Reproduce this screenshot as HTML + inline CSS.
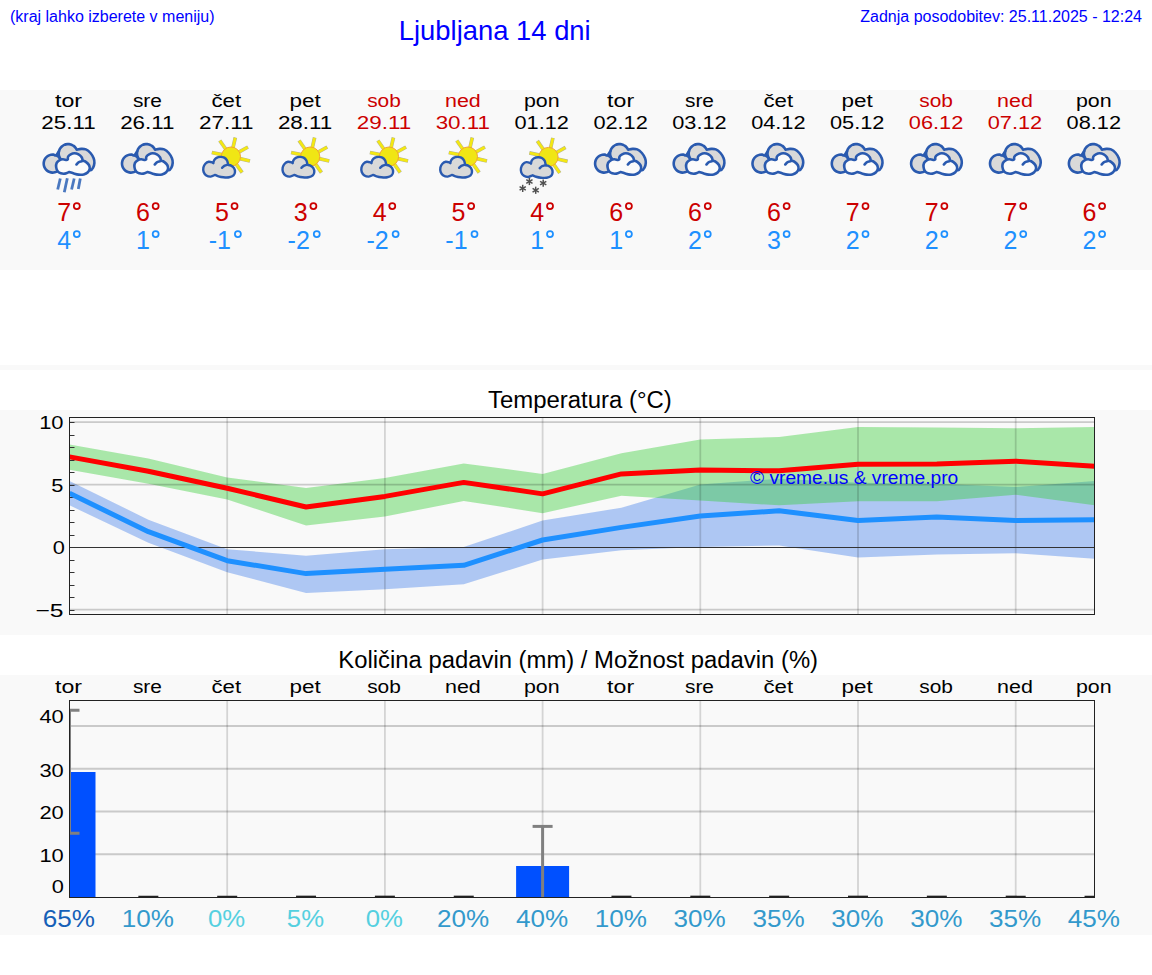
<!DOCTYPE html>
<html><head><meta charset="utf-8"><title>Ljubljana 14 dni</title>
<style>
html,body{margin:0;padding:0;background:#fff;width:1152px;height:975px;overflow:hidden}
svg{display:block}
text{font-family:"Liberation Sans",sans-serif}
</style></head><body>
<svg width="1152" height="975" viewBox="0 0 1152 975">
<defs>

<g id="cb"><path d="M-11.90,11.39 C-12.30,11.55 -13.48,12.16 -14.31,12.35 C-15.14,12.55 -16.04,12.63 -16.89,12.59 C-17.75,12.54 -18.63,12.36 -19.44,12.07 C-20.24,11.78 -21.04,11.36 -21.73,10.85 C-22.42,10.35 -23.06,9.72 -23.57,9.03 C-24.09,8.35 -24.53,7.56 -24.83,6.76 C-25.13,5.96 -25.32,5.08 -25.38,4.23 C-25.44,3.37 -25.37,2.48 -25.18,1.64 C-25.00,0.81 -24.68,-0.04 -24.26,-0.78 C-23.84,-1.53 -23.30,-2.25 -22.68,-2.84 C-22.07,-3.44 -21.34,-3.97 -20.59,-4.37 C-19.83,-4.77 -18.98,-5.06 -18.14,-5.23 C-17.30,-5.40 -16.40,-5.44 -15.55,-5.36 C-14.70,-5.28 -13.95,-4.12 -13.03,-4.74 C-12.11,-5.37 -10.53,-8.37 -10.04,-9.09 C-9.94,-9.35 -9.69,-10.13 -9.45,-10.62 C-9.21,-11.11 -8.92,-11.58 -8.60,-12.03 C-8.28,-12.47 -7.92,-12.88 -7.53,-13.26 C-7.14,-13.64 -6.71,-13.99 -6.26,-14.29 C-5.81,-14.60 -5.32,-14.87 -4.82,-15.09 C-4.33,-15.31 -3.80,-15.49 -3.27,-15.62 C-2.75,-15.75 -2.20,-15.84 -1.66,-15.88 C-1.11,-15.92 -0.56,-15.91 -0.02,-15.85 C0.52,-15.79 1.07,-15.69 1.59,-15.54 C2.11,-15.39 2.63,-15.19 3.12,-14.95 C3.61,-14.71 4.08,-14.42 4.53,-14.10 C4.97,-13.78 5.38,-13.42 5.76,-13.03 C6.14,-12.64 6.49,-12.21 6.79,-11.76 C7.10,-11.31 7.45,-10.56 7.59,-10.32 C8.33,-10.46 10.53,-11.10 12.05,-11.15 C13.57,-11.20 15.17,-11.29 16.73,-10.60 C18.29,-9.91 20.10,-8.47 21.40,-7.00 C22.70,-5.53 23.90,-3.42 24.55,-1.77 C25.20,-0.12 25.39,1.34 25.30,2.90 C25.21,4.46 24.65,6.38 24.00,7.60 C23.35,8.82 22.57,9.97 21.40,10.20 C20.23,10.43 17.73,9.20 17.00,9.00  L-9,9 Z" fill="#d9d9d9" stroke="#2a5aaf" stroke-width="2.6" stroke-linejoin="round"/><path d="M-10.04,-9.09 C-10.08,-8.87 -10.25,-8.21 -10.31,-7.77 C-10.37,-7.32 -10.40,-6.87 -10.40,-6.42 C-10.40,-5.97 -10.36,-5.51 -10.29,-5.07 C-10.22,-4.63 -10.12,-4.18 -9.99,-3.75 C-9.86,-3.32 -9.69,-2.90 -9.50,-2.49 C-9.31,-2.08 -9.09,-1.69 -8.84,-1.31 C-8.59,-0.94 -8.31,-0.58 -8.01,-0.24 C-7.71,0.09 -7.20,0.54 -7.04,0.70" fill="none" stroke="#2a5aaf" stroke-width="2.6"/><path d="M-13.03,-4.74 C-12.85,-4.66 -12.30,-4.42 -11.95,-4.23 C-11.61,-4.03 -11.27,-3.81 -10.96,-3.57 C-10.64,-3.33 -10.34,-3.07 -10.06,-2.79 C-9.78,-2.51 -9.51,-2.21 -9.27,-1.89 C-9.03,-1.58 -8.72,-1.07 -8.61,-0.90" fill="none" stroke="#2a5aaf" stroke-width="2.6"/></g>
<g id="over"><use href="#cb"/><path d="M0.07,12.03 C-0.62,12.29 -2.71,13.39 -4.10,13.60 C-5.49,13.81 -7.05,13.69 -8.27,13.30 C-9.49,12.91 -10.62,12.29 -11.40,11.25 C-12.18,10.21 -12.78,8.47 -12.95,7.08 C-13.12,5.69 -12.93,4.03 -12.40,2.90 C-11.88,1.77 -10.83,0.91 -9.80,0.30 C-8.77,-0.30 -7.42,-0.69 -6.20,-0.73 C-4.98,-0.77 -3.33,0.05 -2.50,0.05 C-1.67,0.05 -1.45,-0.60 -1.24,-0.73 C-1.20,-1.16 -1.46,-2.51 -0.98,-3.33 C-0.50,-4.16 0.59,-5.12 1.63,-5.68 C2.67,-6.24 3.98,-6.72 5.28,-6.72 C6.58,-6.72 8.22,-6.33 9.44,-5.68 C10.65,-5.03 11.88,-3.86 12.57,-2.81 C13.26,-1.76 13.43,0.03 13.60,0.60 C14.12,0.81 15.69,1.14 16.73,1.88 C17.77,2.61 19.21,3.87 19.86,5.00 C20.51,6.13 20.82,7.43 20.64,8.65 C20.46,9.87 19.80,11.34 18.80,12.30 C17.80,13.26 16.21,14.02 14.65,14.40 C13.09,14.78 11.18,14.78 9.44,14.60 C7.70,14.42 5.76,13.73 4.20,13.30 C2.64,12.87 0.76,12.24 0.07,12.03 Z" fill="#fbfbfb" stroke="#2a5aaf" stroke-width="2.6" stroke-linejoin="round"/><path d="M7.36,4.48 C7.71,4.13 8.57,2.92 9.44,2.40 C10.31,1.88 11.88,1.60 12.57,1.35 C13.26,1.10 13.43,0.98 13.60,0.90" fill="none" stroke="#2a5aaf" stroke-width="2.6" stroke-linecap="round"/></g>
<g id="rain"><use href="#over"/><line x1="-8.8" y1="18.5" x2="-11.4" y2="29.5" stroke="#4a78c0" stroke-width="2.8"/><line x1="-1.8" y1="18.2" x2="-4.8" y2="32.3" stroke="#4a78c0" stroke-width="2.8"/><line x1="5.1" y1="18.5" x2="2.5" y2="29.5" stroke="#4a78c0" stroke-width="2.8"/><line x1="11.2" y1="18.5" x2="9.2" y2="29" stroke="#4a78c0" stroke-width="2.8"/></g>
<g id="sun"><line x1="11.49" y1="-1.60" x2="22.80" y2="1.01" stroke="#b4b494" stroke-width="3.7"/><line x1="8.30" y1="3.15" x2="14.97" y2="12.64" stroke="#b4b494" stroke-width="3.7"/><line x1="2.45" y1="4.50" x2="0.63" y2="15.96" stroke="#b4b494" stroke-width="3.7"/><line x1="-2.85" y1="1.19" x2="-12.36" y2="7.84" stroke="#b4b494" stroke-width="3.7"/><line x1="-4.12" y1="-5.08" x2="-15.46" y2="-7.51" stroke="#b4b494" stroke-width="3.7"/><line x1="-0.85" y1="-9.98" x2="-7.46" y2="-19.51" stroke="#b4b494" stroke-width="3.7"/><line x1="5.51" y1="-11.19" x2="8.14" y2="-22.49" stroke="#b4b494" stroke-width="3.7"/><line x1="10.68" y1="-7.32" x2="20.79" y2="-12.99" stroke="#b4b494" stroke-width="3.7"/><line x1="11.49" y1="-1.60" x2="22.41" y2="0.92" stroke="#f4e812" stroke-width="2.7"/><line x1="8.30" y1="3.15" x2="14.74" y2="12.31" stroke="#f4e812" stroke-width="2.7"/><line x1="2.45" y1="4.50" x2="0.70" y2="15.56" stroke="#f4e812" stroke-width="2.7"/><line x1="-2.85" y1="1.19" x2="-12.03" y2="7.61" stroke="#f4e812" stroke-width="2.7"/><line x1="-4.12" y1="-5.08" x2="-15.07" y2="-7.42" stroke="#f4e812" stroke-width="2.7"/><line x1="-0.85" y1="-9.98" x2="-7.23" y2="-19.19" stroke="#f4e812" stroke-width="2.7"/><line x1="5.51" y1="-11.19" x2="8.05" y2="-22.10" stroke="#f4e812" stroke-width="2.7"/><line x1="10.68" y1="-7.32" x2="20.44" y2="-12.80" stroke="#f4e812" stroke-width="2.7"/><circle cx="3.7" cy="-3.4" r="9.6" fill="#f0e614" stroke="#f2a530" stroke-width="1"/></g>
<g id="psun"><use href="#sun"/><path d="M-12.13,14.89 C-12.86,15.18 -15.04,16.52 -16.50,16.60 C-17.96,16.69 -19.72,16.17 -20.90,15.40 C-22.07,14.63 -23.07,13.27 -23.55,11.97 C-24.03,10.67 -24.08,8.98 -23.80,7.60 C-23.52,6.22 -22.74,4.67 -21.85,3.70 C-20.96,2.73 -19.66,1.97 -18.45,1.77 C-17.23,1.57 -15.33,2.26 -14.56,2.50 C-13.79,2.74 -13.95,3.10 -13.83,3.22 C-13.71,2.73 -13.63,1.19 -13.10,0.30 C-12.57,-0.59 -11.72,-1.55 -10.67,-2.12 C-9.62,-2.69 -8.07,-3.06 -6.78,-3.10 C-5.49,-3.14 -4.00,-2.94 -2.90,-2.37 C-1.80,-1.80 -0.81,-0.71 -0.20,0.30 C0.41,1.31 0.51,2.93 0.75,3.70 C0.99,4.47 1.16,4.72 1.24,4.93 C1.68,5.05 2.97,5.12 3.90,5.65 C4.83,6.18 6.18,7.05 6.83,8.10 C7.48,9.15 7.88,10.75 7.80,11.97 C7.72,13.19 7.31,14.51 6.34,15.40 C5.37,16.29 3.67,16.98 1.97,17.30 C0.27,17.62 -2.08,17.46 -3.86,17.30 C-5.64,17.14 -7.35,16.75 -8.73,16.35 C-10.11,15.95 -11.56,15.13 -12.13,14.89 Z" fill="#d9d9d9" stroke="#2a5aaf" stroke-width="2.4" stroke-linejoin="round"/><path d="M-5.08,7.84 C-4.72,7.52 -3.75,6.39 -2.90,5.90 C-2.05,5.42 -0.71,5.09 0.02,4.93 C0.75,4.77 1.24,4.93 1.48,4.93" fill="none" stroke="#2a5aaf" stroke-width="2.4" stroke-linecap="round"/></g>
<g id="psnow"><use href="#psun" transform="translate(2.2,0.4)"/><line x1="-13.20" y1="17.90" x2="-13.20" y2="25.10" stroke="#505050" stroke-width="1.5"/><line x1="-10.08" y1="19.70" x2="-16.32" y2="23.30" stroke="#505050" stroke-width="1.5"/><line x1="-10.08" y1="23.30" x2="-16.32" y2="19.70" stroke="#505050" stroke-width="1.5"/><line x1="0.60" y1="19.50" x2="0.60" y2="26.70" stroke="#505050" stroke-width="1.5"/><line x1="3.72" y1="21.30" x2="-2.52" y2="24.90" stroke="#505050" stroke-width="1.5"/><line x1="3.72" y1="24.90" x2="-2.52" y2="21.30" stroke="#505050" stroke-width="1.5"/><line x1="-19.90" y1="24.80" x2="-19.90" y2="32.00" stroke="#505050" stroke-width="1.5"/><line x1="-16.78" y1="26.60" x2="-23.02" y2="30.20" stroke="#505050" stroke-width="1.5"/><line x1="-16.78" y1="30.20" x2="-23.02" y2="26.60" stroke="#505050" stroke-width="1.5"/><line x1="-6.90" y1="26.65" x2="-6.90" y2="33.85" stroke="#505050" stroke-width="1.5"/><line x1="-3.78" y1="28.45" x2="-10.02" y2="32.05" stroke="#505050" stroke-width="1.5"/><line x1="-3.78" y1="32.05" x2="-10.02" y2="28.45" stroke="#505050" stroke-width="1.5"/></g>
<clipPath id="tclip"><rect x="69.5" y="417.5" width="1025" height="196.5"/></clipPath>
<clipPath id="rclip"><rect x="69.5" y="700.5" width="1025" height="196.5"/></clipPath>
</defs>

<text x="10" y="22" font-size="16" fill="#0000ff">(kraj lahko izberete v meniju)</text>
<g transform="translate(398.8,39.6) scale(0.965,1)"><text x="0" y="0" font-size="28.4" fill="#0000ff">Ljubljana 14 dni</text></g>
<text x="1142" y="22" font-size="16" fill="#0000ff" text-anchor="end">Zadnja posodobitev: 25.11.2025 - 12:24</text>
<rect x="0" y="90" width="1152" height="180" fill="#f9f9f9"/>
<rect x="0" y="365" width="1152" height="5" fill="#f9f9f9"/>
<rect x="0" y="410" width="1152" height="225" fill="#f9f9f9"/>
<rect x="0" y="675" width="1152" height="260" fill="#f9f9f9"/>
<g transform="translate(68.50,106.80) scale(1.216,1)"><text x="0" y="0" font-size="19" fill="#000000" text-anchor="middle" >tor</text></g>
<g transform="translate(68.50,129.00) scale(1.18,1)"><text x="0" y="0" font-size="19" fill="#000000" text-anchor="middle" >25.11</text></g>
<use href="#rain" transform="translate(69.10,160)"/>
<g transform="translate(64.10,221.00) scale(1.0,1)"><text x="0" y="0" font-size="25" fill="#cc0000" text-anchor="middle" >7</text></g>
<circle cx="76.80" cy="206.10" r="3.0" fill="none" stroke="#cc0000" stroke-width="1.75"/>
<g transform="translate(64.10,249.00) scale(1.0,1)"><text x="0" y="0" font-size="25" fill="#1e90ff" text-anchor="middle" >4</text></g>
<circle cx="76.80" cy="234.10" r="3.0" fill="none" stroke="#1e90ff" stroke-width="1.75"/>
<g transform="translate(147.37,106.80) scale(1.098,1)"><text x="0" y="0" font-size="19" fill="#000000" text-anchor="middle" >sre</text></g>
<g transform="translate(147.37,129.00) scale(1.18,1)"><text x="0" y="0" font-size="19" fill="#000000" text-anchor="middle" >26.11</text></g>
<use href="#over" transform="translate(147.40,160)"/>
<g transform="translate(142.97,221.00) scale(1.0,1)"><text x="0" y="0" font-size="25" fill="#cc0000" text-anchor="middle" >6</text></g>
<circle cx="155.67" cy="206.10" r="3.0" fill="none" stroke="#cc0000" stroke-width="1.75"/>
<g transform="translate(142.97,249.00) scale(1.0,1)"><text x="0" y="0" font-size="25" fill="#1e90ff" text-anchor="middle" >1</text></g>
<circle cx="155.67" cy="234.10" r="3.0" fill="none" stroke="#1e90ff" stroke-width="1.75"/>
<g transform="translate(226.24,106.80) scale(1.17,1)"><text x="0" y="0" font-size="19" fill="#000000" text-anchor="middle" >čet</text></g>
<g transform="translate(226.24,129.00) scale(1.18,1)"><text x="0" y="0" font-size="19" fill="#000000" text-anchor="middle" >27.11</text></g>
<use href="#psun" transform="translate(227.20,160)"/>
<g transform="translate(221.84,221.00) scale(1.0,1)"><text x="0" y="0" font-size="25" fill="#cc0000" text-anchor="middle" >5</text></g>
<circle cx="234.54" cy="206.10" r="3.0" fill="none" stroke="#cc0000" stroke-width="1.75"/>
<g transform="translate(219.84,249.00) scale(1.0,1)"><text x="0" y="0" font-size="25" fill="#1e90ff" text-anchor="middle" >-1</text></g>
<circle cx="237.89" cy="234.10" r="3.0" fill="none" stroke="#1e90ff" stroke-width="1.75"/>
<g transform="translate(305.11,106.80) scale(1.182,1)"><text x="0" y="0" font-size="19" fill="#000000" text-anchor="middle" >pet</text></g>
<g transform="translate(305.11,129.00) scale(1.18,1)"><text x="0" y="0" font-size="19" fill="#000000" text-anchor="middle" >28.11</text></g>
<use href="#psun" transform="translate(306.50,160)"/>
<g transform="translate(300.71,221.00) scale(1.0,1)"><text x="0" y="0" font-size="25" fill="#cc0000" text-anchor="middle" >3</text></g>
<circle cx="313.41" cy="206.10" r="3.0" fill="none" stroke="#cc0000" stroke-width="1.75"/>
<g transform="translate(298.71,249.00) scale(1.0,1)"><text x="0" y="0" font-size="25" fill="#1e90ff" text-anchor="middle" >-2</text></g>
<circle cx="316.76" cy="234.10" r="3.0" fill="none" stroke="#1e90ff" stroke-width="1.75"/>
<g transform="translate(383.98,106.80) scale(1.098,1)"><text x="0" y="0" font-size="19" fill="#cc0000" text-anchor="middle" >sob</text></g>
<g transform="translate(383.98,129.00) scale(1.18,1)"><text x="0" y="0" font-size="19" fill="#cc0000" text-anchor="middle" >29.11</text></g>
<use href="#psun" transform="translate(385.30,160)"/>
<g transform="translate(379.58,221.00) scale(1.0,1)"><text x="0" y="0" font-size="25" fill="#cc0000" text-anchor="middle" >4</text></g>
<circle cx="392.28" cy="206.10" r="3.0" fill="none" stroke="#cc0000" stroke-width="1.75"/>
<g transform="translate(377.58,249.00) scale(1.0,1)"><text x="0" y="0" font-size="25" fill="#1e90ff" text-anchor="middle" >-2</text></g>
<circle cx="395.63" cy="234.10" r="3.0" fill="none" stroke="#1e90ff" stroke-width="1.75"/>
<g transform="translate(462.85,106.80) scale(1.129,1)"><text x="0" y="0" font-size="19" fill="#cc0000" text-anchor="middle" >ned</text></g>
<g transform="translate(462.85,129.00) scale(1.18,1)"><text x="0" y="0" font-size="19" fill="#cc0000" text-anchor="middle" >30.11</text></g>
<use href="#psun" transform="translate(464.20,160)"/>
<g transform="translate(458.45,221.00) scale(1.0,1)"><text x="0" y="0" font-size="25" fill="#cc0000" text-anchor="middle" >5</text></g>
<circle cx="471.15" cy="206.10" r="3.0" fill="none" stroke="#cc0000" stroke-width="1.75"/>
<g transform="translate(456.45,249.00) scale(1.0,1)"><text x="0" y="0" font-size="25" fill="#1e90ff" text-anchor="middle" >-1</text></g>
<circle cx="474.50" cy="234.10" r="3.0" fill="none" stroke="#1e90ff" stroke-width="1.75"/>
<g transform="translate(541.72,106.80) scale(1.126,1)"><text x="0" y="0" font-size="19" fill="#000000" text-anchor="middle" >pon</text></g>
<g transform="translate(541.72,129.00) scale(1.145,1)"><text x="0" y="0" font-size="19" fill="#000000" text-anchor="middle" >01.12</text></g>
<use href="#psnow" transform="translate(542.60,160)"/>
<g transform="translate(537.32,221.00) scale(1.0,1)"><text x="0" y="0" font-size="25" fill="#cc0000" text-anchor="middle" >4</text></g>
<circle cx="550.02" cy="206.10" r="3.0" fill="none" stroke="#cc0000" stroke-width="1.75"/>
<g transform="translate(537.32,249.00) scale(1.0,1)"><text x="0" y="0" font-size="25" fill="#1e90ff" text-anchor="middle" >1</text></g>
<circle cx="550.02" cy="234.10" r="3.0" fill="none" stroke="#1e90ff" stroke-width="1.75"/>
<g transform="translate(620.59,106.80) scale(1.216,1)"><text x="0" y="0" font-size="19" fill="#000000" text-anchor="middle" >tor</text></g>
<g transform="translate(620.59,129.00) scale(1.145,1)"><text x="0" y="0" font-size="19" fill="#000000" text-anchor="middle" >02.12</text></g>
<use href="#over" transform="translate(620.50,160)"/>
<g transform="translate(616.19,221.00) scale(1.0,1)"><text x="0" y="0" font-size="25" fill="#cc0000" text-anchor="middle" >6</text></g>
<circle cx="628.89" cy="206.10" r="3.0" fill="none" stroke="#cc0000" stroke-width="1.75"/>
<g transform="translate(616.19,249.00) scale(1.0,1)"><text x="0" y="0" font-size="25" fill="#1e90ff" text-anchor="middle" >1</text></g>
<circle cx="628.89" cy="234.10" r="3.0" fill="none" stroke="#1e90ff" stroke-width="1.75"/>
<g transform="translate(699.46,106.80) scale(1.098,1)"><text x="0" y="0" font-size="19" fill="#000000" text-anchor="middle" >sre</text></g>
<g transform="translate(699.46,129.00) scale(1.145,1)"><text x="0" y="0" font-size="19" fill="#000000" text-anchor="middle" >03.12</text></g>
<use href="#over" transform="translate(699.10,160)"/>
<g transform="translate(695.06,221.00) scale(1.0,1)"><text x="0" y="0" font-size="25" fill="#cc0000" text-anchor="middle" >6</text></g>
<circle cx="707.76" cy="206.10" r="3.0" fill="none" stroke="#cc0000" stroke-width="1.75"/>
<g transform="translate(695.06,249.00) scale(1.0,1)"><text x="0" y="0" font-size="25" fill="#1e90ff" text-anchor="middle" >2</text></g>
<circle cx="707.76" cy="234.10" r="3.0" fill="none" stroke="#1e90ff" stroke-width="1.75"/>
<g transform="translate(778.33,106.80) scale(1.17,1)"><text x="0" y="0" font-size="19" fill="#000000" text-anchor="middle" >čet</text></g>
<g transform="translate(778.33,129.00) scale(1.145,1)"><text x="0" y="0" font-size="19" fill="#000000" text-anchor="middle" >04.12</text></g>
<use href="#over" transform="translate(777.90,160)"/>
<g transform="translate(773.93,221.00) scale(1.0,1)"><text x="0" y="0" font-size="25" fill="#cc0000" text-anchor="middle" >6</text></g>
<circle cx="786.63" cy="206.10" r="3.0" fill="none" stroke="#cc0000" stroke-width="1.75"/>
<g transform="translate(773.93,249.00) scale(1.0,1)"><text x="0" y="0" font-size="25" fill="#1e90ff" text-anchor="middle" >3</text></g>
<circle cx="786.63" cy="234.10" r="3.0" fill="none" stroke="#1e90ff" stroke-width="1.75"/>
<g transform="translate(857.20,106.80) scale(1.182,1)"><text x="0" y="0" font-size="19" fill="#000000" text-anchor="middle" >pet</text></g>
<g transform="translate(857.20,129.00) scale(1.145,1)"><text x="0" y="0" font-size="19" fill="#000000" text-anchor="middle" >05.12</text></g>
<use href="#over" transform="translate(857.20,160)"/>
<g transform="translate(852.80,221.00) scale(1.0,1)"><text x="0" y="0" font-size="25" fill="#cc0000" text-anchor="middle" >7</text></g>
<circle cx="865.50" cy="206.10" r="3.0" fill="none" stroke="#cc0000" stroke-width="1.75"/>
<g transform="translate(852.80,249.00) scale(1.0,1)"><text x="0" y="0" font-size="25" fill="#1e90ff" text-anchor="middle" >2</text></g>
<circle cx="865.50" cy="234.10" r="3.0" fill="none" stroke="#1e90ff" stroke-width="1.75"/>
<g transform="translate(936.07,106.80) scale(1.098,1)"><text x="0" y="0" font-size="19" fill="#cc0000" text-anchor="middle" >sob</text></g>
<g transform="translate(936.07,129.00) scale(1.145,1)"><text x="0" y="0" font-size="19" fill="#cc0000" text-anchor="middle" >06.12</text></g>
<use href="#over" transform="translate(936.50,160)"/>
<g transform="translate(931.67,221.00) scale(1.0,1)"><text x="0" y="0" font-size="25" fill="#cc0000" text-anchor="middle" >7</text></g>
<circle cx="944.37" cy="206.10" r="3.0" fill="none" stroke="#cc0000" stroke-width="1.75"/>
<g transform="translate(931.67,249.00) scale(1.0,1)"><text x="0" y="0" font-size="25" fill="#1e90ff" text-anchor="middle" >2</text></g>
<circle cx="944.37" cy="234.10" r="3.0" fill="none" stroke="#1e90ff" stroke-width="1.75"/>
<g transform="translate(1014.94,106.80) scale(1.129,1)"><text x="0" y="0" font-size="19" fill="#cc0000" text-anchor="middle" >ned</text></g>
<g transform="translate(1014.94,129.00) scale(1.145,1)"><text x="0" y="0" font-size="19" fill="#cc0000" text-anchor="middle" >07.12</text></g>
<use href="#over" transform="translate(1015.40,160)"/>
<g transform="translate(1010.54,221.00) scale(1.0,1)"><text x="0" y="0" font-size="25" fill="#cc0000" text-anchor="middle" >7</text></g>
<circle cx="1023.24" cy="206.10" r="3.0" fill="none" stroke="#cc0000" stroke-width="1.75"/>
<g transform="translate(1010.54,249.00) scale(1.0,1)"><text x="0" y="0" font-size="25" fill="#1e90ff" text-anchor="middle" >2</text></g>
<circle cx="1023.24" cy="234.10" r="3.0" fill="none" stroke="#1e90ff" stroke-width="1.75"/>
<g transform="translate(1093.81,106.80) scale(1.126,1)"><text x="0" y="0" font-size="19" fill="#000000" text-anchor="middle" >pon</text></g>
<g transform="translate(1093.81,129.00) scale(1.145,1)"><text x="0" y="0" font-size="19" fill="#000000" text-anchor="middle" >08.12</text></g>
<use href="#over" transform="translate(1094.30,160)"/>
<g transform="translate(1089.41,221.00) scale(1.0,1)"><text x="0" y="0" font-size="25" fill="#cc0000" text-anchor="middle" >6</text></g>
<circle cx="1102.11" cy="206.10" r="3.0" fill="none" stroke="#cc0000" stroke-width="1.75"/>
<g transform="translate(1089.41,249.00) scale(1.0,1)"><text x="0" y="0" font-size="25" fill="#1e90ff" text-anchor="middle" >2</text></g>
<circle cx="1102.11" cy="234.10" r="3.0" fill="none" stroke="#1e90ff" stroke-width="1.75"/>
<text x="579.9" y="408" font-size="23.95" fill="#000" text-anchor="middle">Temperatura (°C)</text>
<rect x="69.5" y="417.5" width="1025" height="196.5" fill="#f9f9f9"/>
<g clip-path="url(#tclip)">
<path d="M69.50,480.9 L148.35,519.7 L227.20,549.2 L306.05,555.7 L384.90,549.2 L463.75,547 L542.60,520.6 L621.45,507.7 L700.30,484.6 L779.15,478.7 L858.00,482.8 L936.85,483.7 L1015.70,487.1 L1094.55,480.9 L1094.55,558.8 L1015.70,553.3 L936.85,554.4 L858.00,557.5 L779.15,545.5 L700.30,547 L621.45,550.2 L542.60,559.6 L463.75,584.3 L384.90,589.2 L306.05,593 L227.20,572.3 L148.35,542.8 L69.50,505.3 Z" fill="#6495ed" fill-opacity="0.5"/>
<path d="M69.50,444.55 L148.35,458.4 L227.20,477.4 L306.05,487.9 L384.90,477.9 L463.75,463.4 L542.60,473.9 L621.45,453.2 L700.30,439.6 L779.15,437 L858.00,427 L936.85,427.4 L1015.70,428.3 L1094.55,427 L1094.55,505.3 L1015.70,494.8 L936.85,501.2 L858.00,501.2 L779.15,505.3 L700.30,500.6 L621.45,495.7 L542.60,513.2 L463.75,500.9 L384.90,516.6 L306.05,525.6 L227.20,499.4 L148.35,483.7 L69.50,469.85 Z" fill="#32cd32" fill-opacity="0.4"/>
<line x1="69.5" y1="422.20000000000005" x2="1094.5" y2="422.20000000000005" stroke="#000" stroke-opacity="0.19" stroke-width="1.8"/>
<line x1="69.5" y1="484.70000000000005" x2="1094.5" y2="484.70000000000005" stroke="#000" stroke-opacity="0.19" stroke-width="1.8"/>
<line x1="69.5" y1="609.7" x2="1094.5" y2="609.7" stroke="#000" stroke-opacity="0.19" stroke-width="1.8"/>
<line x1="227.20" y1="417.5" x2="227.20" y2="614" stroke="#000" stroke-opacity="0.15" stroke-width="1.8"/>
<line x1="384.90" y1="417.5" x2="384.90" y2="614" stroke="#000" stroke-opacity="0.15" stroke-width="1.8"/>
<line x1="542.60" y1="417.5" x2="542.60" y2="614" stroke="#000" stroke-opacity="0.15" stroke-width="1.8"/>
<line x1="700.30" y1="417.5" x2="700.30" y2="614" stroke="#000" stroke-opacity="0.15" stroke-width="1.8"/>
<line x1="858.00" y1="417.5" x2="858.00" y2="614" stroke="#000" stroke-opacity="0.15" stroke-width="1.8"/>
<line x1="1015.70" y1="417.5" x2="1015.70" y2="614" stroke="#000" stroke-opacity="0.15" stroke-width="1.8"/>
<line x1="69.5" y1="547.5" x2="1094.5" y2="547.5" stroke="#333" stroke-width="1"/>
<line x1="69.5" y1="610.5" x2="74.5" y2="610.5" stroke="#333" stroke-width="1"/>
<line x1="69.5" y1="597.5" x2="74.5" y2="597.5" stroke="#333" stroke-width="1"/>
<line x1="69.5" y1="585.5" x2="74.5" y2="585.5" stroke="#333" stroke-width="1"/>
<line x1="69.5" y1="572.5" x2="74.5" y2="572.5" stroke="#333" stroke-width="1"/>
<line x1="69.5" y1="560.5" x2="74.5" y2="560.5" stroke="#333" stroke-width="1"/>
<line x1="69.5" y1="547.5" x2="74.5" y2="547.5" stroke="#333" stroke-width="1"/>
<line x1="69.5" y1="535.5" x2="74.5" y2="535.5" stroke="#333" stroke-width="1"/>
<line x1="69.5" y1="522.5" x2="74.5" y2="522.5" stroke="#333" stroke-width="1"/>
<line x1="69.5" y1="510.5" x2="74.5" y2="510.5" stroke="#333" stroke-width="1"/>
<line x1="69.5" y1="497.5" x2="74.5" y2="497.5" stroke="#333" stroke-width="1"/>
<line x1="69.5" y1="485.5" x2="74.5" y2="485.5" stroke="#333" stroke-width="1"/>
<line x1="69.5" y1="472.5" x2="74.5" y2="472.5" stroke="#333" stroke-width="1"/>
<line x1="69.5" y1="460.5" x2="74.5" y2="460.5" stroke="#333" stroke-width="1"/>
<line x1="69.5" y1="447.5" x2="74.5" y2="447.5" stroke="#333" stroke-width="1"/>
<line x1="69.5" y1="435.5" x2="74.5" y2="435.5" stroke="#333" stroke-width="1"/>
<line x1="69.5" y1="422.5" x2="74.5" y2="422.5" stroke="#333" stroke-width="1"/>
<path d="M69.50,456.9 L148.35,471.2 L227.20,488.2 L306.05,506.95 L384.90,496.4 L463.75,482.4 L542.60,493.85 L621.45,473.9 L700.30,470.0 L779.15,470.8 L858.00,464.3 L936.85,463.9 L1015.70,461.2 L1094.55,466.15" fill="none" stroke="#ff0000" stroke-width="5" stroke-linejoin="round"/>
<path d="M69.50,493.3 L148.35,531.7 L227.20,560.7 L306.05,573.6 L384.90,569.2 L463.75,565.3 L542.60,540 L621.45,527.4 L700.30,516.0 L779.15,510.8 L858.00,520.6 L936.85,516.9 L1015.70,520.6 L1094.55,519.7" fill="none" stroke="#1e90ff" stroke-width="5" stroke-linejoin="round"/>
</g>
<rect x="69.5" y="417.5" width="1025" height="197" fill="none" stroke="#222" stroke-width="1"/>
<text x="750" y="484" font-size="19.2" fill="#0000ff">© vreme.us &amp; vreme.pro</text>
<g transform="translate(63.50,429.10) scale(1.147,1)"><text x="0" y="0" font-size="19.1" fill="#000" text-anchor="end" >10</text></g>
<g transform="translate(63.50,491.60) scale(1.142,1)"><text x="0" y="0" font-size="19.1" fill="#000" text-anchor="end" >5</text></g>
<g transform="translate(65.00,554.10) scale(1.142,1)"><text x="0" y="0" font-size="19.1" fill="#000" text-anchor="end" >0</text></g>
<g transform="translate(63.50,616.60) scale(1.29,1)"><text x="0" y="0" font-size="19.1" fill="#000" text-anchor="end" >−5</text></g>
<text x="578.2" y="668" font-size="23.85" fill="#000" text-anchor="middle">Količina padavin (mm) / Možnost padavin (%)</text>
<g transform="translate(68.50,692.80) scale(1.216,1)"><text x="0" y="0" font-size="19" fill="#000" text-anchor="middle" >tor</text></g>
<g transform="translate(147.37,692.80) scale(1.098,1)"><text x="0" y="0" font-size="19" fill="#000" text-anchor="middle" >sre</text></g>
<g transform="translate(226.24,692.80) scale(1.17,1)"><text x="0" y="0" font-size="19" fill="#000" text-anchor="middle" >čet</text></g>
<g transform="translate(305.11,692.80) scale(1.182,1)"><text x="0" y="0" font-size="19" fill="#000" text-anchor="middle" >pet</text></g>
<g transform="translate(383.98,692.80) scale(1.098,1)"><text x="0" y="0" font-size="19" fill="#000" text-anchor="middle" >sob</text></g>
<g transform="translate(462.85,692.80) scale(1.129,1)"><text x="0" y="0" font-size="19" fill="#000" text-anchor="middle" >ned</text></g>
<g transform="translate(541.72,692.80) scale(1.126,1)"><text x="0" y="0" font-size="19" fill="#000" text-anchor="middle" >pon</text></g>
<g transform="translate(620.59,692.80) scale(1.216,1)"><text x="0" y="0" font-size="19" fill="#000" text-anchor="middle" >tor</text></g>
<g transform="translate(699.46,692.80) scale(1.098,1)"><text x="0" y="0" font-size="19" fill="#000" text-anchor="middle" >sre</text></g>
<g transform="translate(778.33,692.80) scale(1.17,1)"><text x="0" y="0" font-size="19" fill="#000" text-anchor="middle" >čet</text></g>
<g transform="translate(857.20,692.80) scale(1.182,1)"><text x="0" y="0" font-size="19" fill="#000" text-anchor="middle" >pet</text></g>
<g transform="translate(936.07,692.80) scale(1.098,1)"><text x="0" y="0" font-size="19" fill="#000" text-anchor="middle" >sob</text></g>
<g transform="translate(1014.94,692.80) scale(1.129,1)"><text x="0" y="0" font-size="19" fill="#000" text-anchor="middle" >ned</text></g>
<g transform="translate(1093.81,692.80) scale(1.126,1)"><text x="0" y="0" font-size="19" fill="#000" text-anchor="middle" >pon</text></g>
<rect x="69.5" y="700.5" width="1025" height="196.5" fill="#f9f9f9"/>
<g clip-path="url(#rclip)">
<line x1="69.5" y1="854.25" x2="1094.5" y2="854.25" stroke="#000" stroke-opacity="0.19" stroke-width="1.8"/>
<line x1="69.5" y1="811.5" x2="1094.5" y2="811.5" stroke="#000" stroke-opacity="0.19" stroke-width="1.8"/>
<line x1="69.5" y1="768.75" x2="1094.5" y2="768.75" stroke="#000" stroke-opacity="0.19" stroke-width="1.8"/>
<line x1="69.5" y1="726.0" x2="1094.5" y2="726.0" stroke="#000" stroke-opacity="0.19" stroke-width="1.8"/>
<line x1="227.20" y1="700.5" x2="227.20" y2="897" stroke="#000" stroke-opacity="0.15" stroke-width="1.8"/>
<line x1="384.90" y1="700.5" x2="384.90" y2="897" stroke="#000" stroke-opacity="0.15" stroke-width="1.8"/>
<line x1="542.60" y1="700.5" x2="542.60" y2="897" stroke="#000" stroke-opacity="0.15" stroke-width="1.8"/>
<line x1="700.30" y1="700.5" x2="700.30" y2="897" stroke="#000" stroke-opacity="0.15" stroke-width="1.8"/>
<line x1="858.00" y1="700.5" x2="858.00" y2="897" stroke="#000" stroke-opacity="0.15" stroke-width="1.8"/>
<line x1="1015.70" y1="700.5" x2="1015.70" y2="897" stroke="#000" stroke-opacity="0.15" stroke-width="1.8"/>
<rect x="42.5" y="772" width="53" height="125" fill="#0050ff"/>
<rect x="516.10" y="866" width="53" height="31" fill="#0050ff"/>
<line x1="69.50" y1="710.3" x2="69.50" y2="833.3" stroke="#808080" stroke-width="3"/>
<line x1="59.50" y1="710.3" x2="79.50" y2="710.3" stroke="#808080" stroke-width="3"/>
<line x1="59.50" y1="833.3" x2="79.50" y2="833.3" stroke="#808080" stroke-width="3"/>
<line x1="542.60" y1="826.4" x2="542.60" y2="897" stroke="#808080" stroke-width="3"/>
<line x1="532.60" y1="826.4" x2="552.60" y2="826.4" stroke="#808080" stroke-width="3"/>
<line x1="138.35" y1="896.4" x2="158.35" y2="896.4" stroke="#222" stroke-width="1.5"/>
<line x1="217.20" y1="896.4" x2="237.20" y2="896.4" stroke="#222" stroke-width="1.5"/>
<line x1="296.05" y1="896.4" x2="316.05" y2="896.4" stroke="#222" stroke-width="1.5"/>
<line x1="374.90" y1="896.4" x2="394.90" y2="896.4" stroke="#222" stroke-width="1.5"/>
<line x1="453.75" y1="896.4" x2="473.75" y2="896.4" stroke="#222" stroke-width="1.5"/>
<line x1="611.45" y1="896.4" x2="631.45" y2="896.4" stroke="#222" stroke-width="1.5"/>
<line x1="690.30" y1="896.4" x2="710.30" y2="896.4" stroke="#222" stroke-width="1.5"/>
<line x1="769.15" y1="896.4" x2="789.15" y2="896.4" stroke="#222" stroke-width="1.5"/>
<line x1="848.00" y1="896.4" x2="868.00" y2="896.4" stroke="#222" stroke-width="1.5"/>
<line x1="926.85" y1="896.4" x2="946.85" y2="896.4" stroke="#222" stroke-width="1.5"/>
<line x1="1005.70" y1="896.4" x2="1025.70" y2="896.4" stroke="#222" stroke-width="1.5"/>
<line x1="1084.55" y1="896.4" x2="1104.55" y2="896.4" stroke="#222" stroke-width="1.5"/>
</g>
<rect x="69.5" y="700.5" width="1025" height="197" fill="none" stroke="#222" stroke-width="1"/>
<g transform="translate(63.80,722.60) scale(1.147,1)"><text x="0" y="0" font-size="19.1" fill="#000" text-anchor="end" >40</text></g>
<g transform="translate(63.80,777.00) scale(1.147,1)"><text x="0" y="0" font-size="19.1" fill="#000" text-anchor="end" >30</text></g>
<g transform="translate(63.80,819.40) scale(1.147,1)"><text x="0" y="0" font-size="19.1" fill="#000" text-anchor="end" >20</text></g>
<g transform="translate(63.80,862.00) scale(1.147,1)"><text x="0" y="0" font-size="19.1" fill="#000" text-anchor="end" >10</text></g>
<g transform="translate(63.80,892.80) scale(1.142,1)"><text x="0" y="0" font-size="19.1" fill="#000" text-anchor="end" >0</text></g>
<g transform="translate(68.90,926.60) scale(1.111,1)"><text x="0" y="0" font-size="23.5" fill="#1560b8" text-anchor="middle" >65%</text></g>
<g transform="translate(147.75,926.60) scale(1.111,1)"><text x="0" y="0" font-size="23.5" fill="#3399cc" text-anchor="middle" >10%</text></g>
<g transform="translate(226.60,926.60) scale(1.095,1)"><text x="0" y="0" font-size="23.5" fill="#55d0e0" text-anchor="middle" >0%</text></g>
<g transform="translate(305.45,926.60) scale(1.095,1)"><text x="0" y="0" font-size="23.5" fill="#55d0e0" text-anchor="middle" >5%</text></g>
<g transform="translate(384.30,926.60) scale(1.095,1)"><text x="0" y="0" font-size="23.5" fill="#55d0e0" text-anchor="middle" >0%</text></g>
<g transform="translate(463.15,926.60) scale(1.111,1)"><text x="0" y="0" font-size="23.5" fill="#3399cc" text-anchor="middle" >20%</text></g>
<g transform="translate(542.00,926.60) scale(1.111,1)"><text x="0" y="0" font-size="23.5" fill="#3399cc" text-anchor="middle" >40%</text></g>
<g transform="translate(620.85,926.60) scale(1.111,1)"><text x="0" y="0" font-size="23.5" fill="#3399cc" text-anchor="middle" >10%</text></g>
<g transform="translate(699.70,926.60) scale(1.111,1)"><text x="0" y="0" font-size="23.5" fill="#3399cc" text-anchor="middle" >30%</text></g>
<g transform="translate(778.55,926.60) scale(1.111,1)"><text x="0" y="0" font-size="23.5" fill="#3399cc" text-anchor="middle" >35%</text></g>
<g transform="translate(857.40,926.60) scale(1.111,1)"><text x="0" y="0" font-size="23.5" fill="#3399cc" text-anchor="middle" >30%</text></g>
<g transform="translate(936.25,926.60) scale(1.111,1)"><text x="0" y="0" font-size="23.5" fill="#3399cc" text-anchor="middle" >30%</text></g>
<g transform="translate(1015.10,926.60) scale(1.111,1)"><text x="0" y="0" font-size="23.5" fill="#3399cc" text-anchor="middle" >35%</text></g>
<g transform="translate(1093.95,926.60) scale(1.111,1)"><text x="0" y="0" font-size="23.5" fill="#3399cc" text-anchor="middle" >45%</text></g>
</svg></body></html>
